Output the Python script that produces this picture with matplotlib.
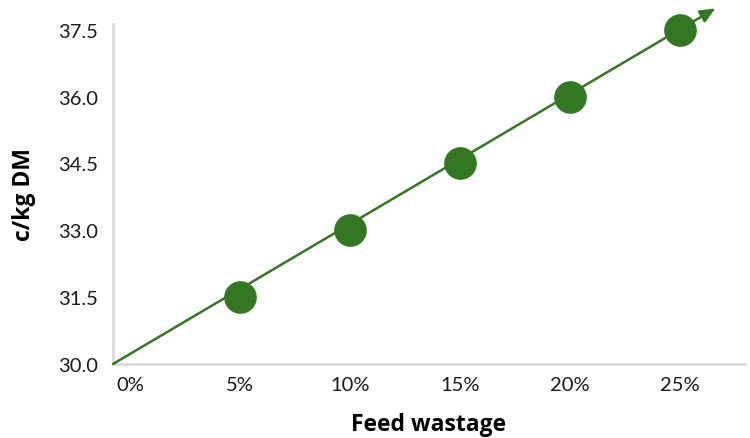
import matplotlib.pyplot as plt

plt.rcParams['font.family'] = ['Lato', 'DejaVu Sans']

wastage = [5, 10, 15, 20, 25]
cost = [31.5, 33.0, 34.5, 36.0, 37.5]
xticks = [0, 5, 10, 15, 20, 25]
xlabels = ['0%', '5%', '10%', '15%', '20%', '25%']
yticks = [30.0, 31.5, 33.0, 34.5, 36.0, 37.5]

green = '#347722'
grey = '#d9d9d9'

fig = plt.figure(figsize=(7.5, 4.39), dpi=100)
ax = fig.add_axes([0.1507, 0.1686, 0.8426, 0.7744])

x0 = -0.77
ax.set_xlim(x0, 27.95)
ax.set_ylim(30, 37.63)

# trend arrow from the axis corner past the last point
ax.annotate('', xy=(26.6, 37.98), xytext=(x0, 30.0),
            arrowprops=dict(arrowstyle='-|>,head_length=0.9,head_width=0.4',
                            color=green, lw=1.8, shrinkA=0, shrinkB=0),
            annotation_clip=False)
ax.plot(wastage, cost, 'o', color=green, markersize=22.5, zorder=3, clip_on=False)

for s in ['top', 'right']:
    ax.spines[s].set_visible(False)
for s in ['left', 'bottom']:
    ax.spines[s].set_color(grey)
    ax.spines[s].set_linewidth(2)

ax.set_xticks(xticks)
ax.set_xticklabels(xlabels)
ax.set_yticks(yticks)
ax.set_yticklabels([f'{v:.1f}' for v in yticks])
ax.tick_params(length=0, labelsize=14.5, colors='#1a1a1a')
ax.tick_params(axis='y', pad=11)
ax.tick_params(axis='x', pad=9)

lab = dict(fontsize=16.5, fontweight='bold', family=['Open Sans', 'DejaVu Sans'])
ax.set_xlabel('Feed wastage', labelpad=13, **lab)
ax.set_ylabel('c/kg DM', labelpad=16, **lab)

fig.savefig('out.png', dpi=100)
